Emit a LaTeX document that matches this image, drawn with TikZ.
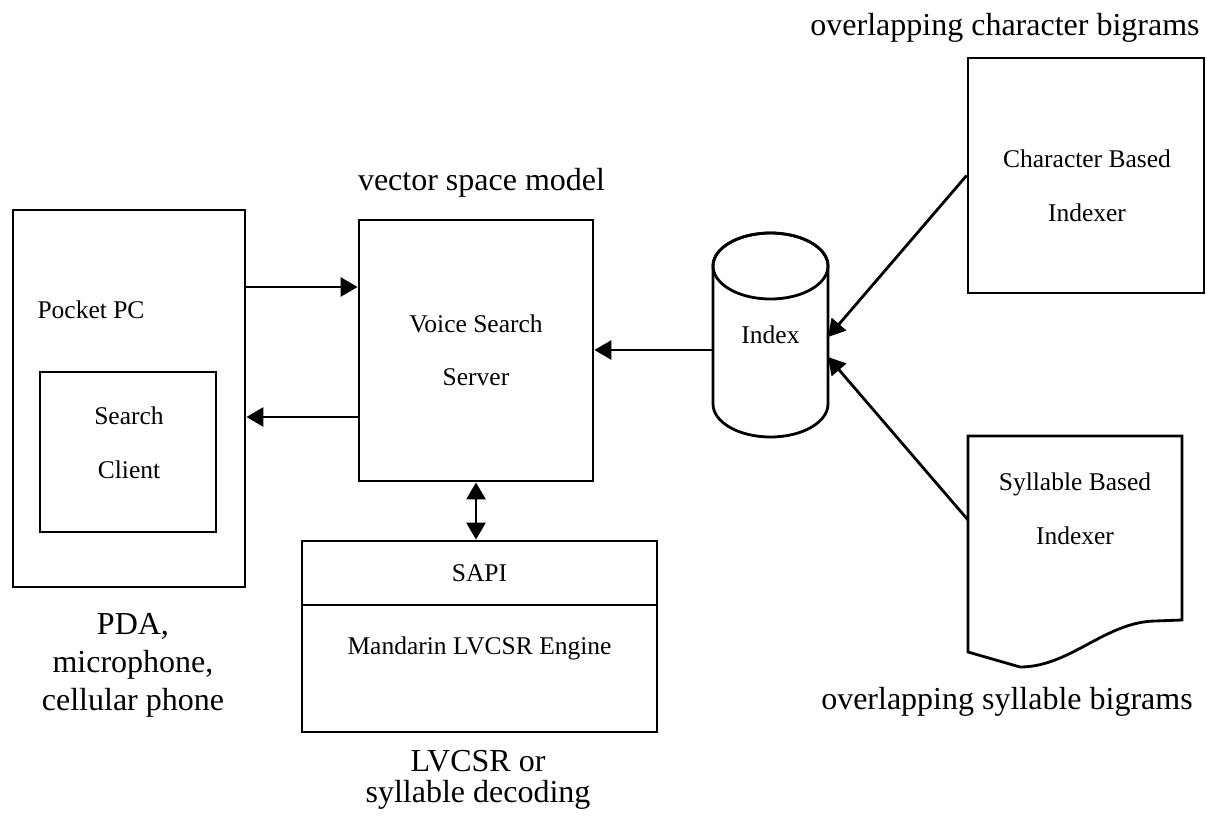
\documentclass[tikz,border=0pt]{standalone}
\usepackage{fontspec}
\setmainfont{Liberation Serif}
\usetikzlibrary{arrows.meta,positioning,calc}

\begin{document}
\begin{tikzpicture}[x=1pt,y=-1pt,>={Triangle[length=17pt,width=19pt]},
line width=2.8pt, font=\fontsize{32}{38}\selectfont]

\tikzstyle{box}=[rectangle, draw, line width=2.8pt, text centered, align=center,
font=\fontsize{25.5}{53}\selectfont]
\tikzstyle{ghost}=[rectangle, draw=none, inner sep=0pt, outer sep=0pt, align=center,
font=\fontsize{25.5}{54}\selectfont]
\tikzstyle{caption}=[align=center, inner sep=0pt]

\useasboundingbox (0,0) rectangle (1207,816);

%client side
\node[box, minimum width=232pt, minimum height=377pt] (pc) at (129,398.5) {};
\node[ghost] (pclabel) at (91,310) {Pocket PC};
\node[box, minimum width=176pt, minimum height=160pt] (client) at (128,452) {};
\node[ghost] (clientlabel) at (129,442.5) {Search\\Client};

%server
\node[box, minimum width=234pt, minimum height=261pt] (vss) at (476,350.5) {Voice Search\\Server};

%recognizer
\node[box, minimum width=355pt, minimum height=64pt] (sapi) at (479.5,573) {SAPI};
\node[box, minimum width=355pt, minimum height=127pt] (engine) at (479.5,668.5) {};
\node[ghost] (enginelabel) at ([yshift=20pt]engine.center) {Mandarin LVCSR Engine};

%index
\node[ghost, minimum width=115pt, minimum height=204pt] (index) at (770.5,335) {Index};
\draw ([yshift=-33pt]index.north west) -- ([yshift=33pt]index.south west)
  arc[start angle=180, end angle=360, x radius=57.5pt, y radius=33pt]
  -- ([yshift=-33pt]index.north east)
  arc[start angle=0, end angle=180, x radius=57.5pt, y radius=33pt];
\draw ([yshift=-33pt]index.north) ellipse [x radius=57.5pt, y radius=33pt];

%indexers
\node[box, minimum width=236pt, minimum height=235pt] (chr) at (1086,175.5) {};
\node[ghost] (chrlabel) at (1087,185.5) {Character Based\\Indexer};

\node[ghost, minimum width=214pt, minimum height=231pt] (syl) at (1075,551.5) {};
\draw (syl.north west) -- (syl.north east) -- (1182,620) -- (1155,621)
  .. controls (1105,622) and (1070,667) .. (1020,667) -- (968,652) -- cycle;
\node[ghost] (syllabel) at (1075,508.5) {Syllable Based\\Indexer};

%captions
\node[caption] (vsmlabel) at (481.5,182.5) {vector space model};
\node[caption] (cbglabel) at (1005,27.5) {overlapping character bigrams};
\node[caption] (sbglabel) at (1007,702) {overlapping syllable bigrams};
\node[caption] (devlabel) at (133,665.5) {PDA,\\microphone,\\cellular phone};
\node[caption, font=\fontsize{32}{31}\selectfont] (declabel) at (478,780) {LVCSR or\\syllable decoding};

%connectors
\path[->] ([yshift=111.5pt]pc.east) edge ([yshift=63.5pt]vss.west);
\path[->] ([yshift=-66.5pt]vss.west) edge ([yshift=-18.5pt]pc.east);
\path[->] ([yshift=-15pt]index.west) edge ([yshift=-15pt]index.west -| vss.east);
\path[<->] (vss.south) edge (vss.south |- sapi.north);
\path[->] (chr.west) edge ([yshift=-2pt]index.east);
\path[->] ([yshift=31.5pt]syl.west) edge ([yshift=-22pt]index.east);

\end{tikzpicture}
\end{document}
